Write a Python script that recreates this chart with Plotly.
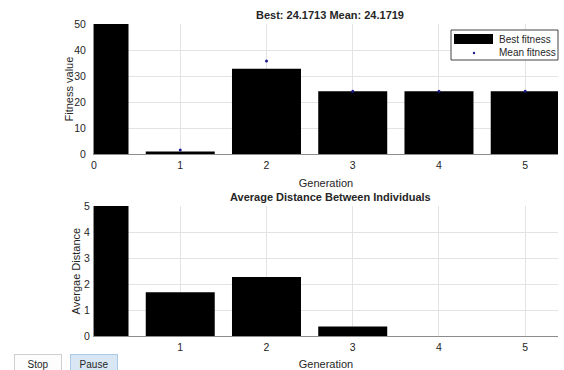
import plotly.graph_objects as go

generations = [0, 1, 2, 3, 4, 5]
best_fitness = [50, 1.0, 32.8, 24.1713, 24.1713, 24.1713]
mean_fitness = [None, 1.5, 35.8, 24.1719, 24.1719, 24.1719]
avg_distance = [5, 1.68, 2.27, 0.37, 0.0, 0.0]

top_title = "Best: 24.1713 Mean: 24.1719"
bottom_title = "Average Distance Between Individuals"
legend_labels = ["Best fitness", "Mean fitness"]

W, H = 564, 370
FONT = "Liberation Sans, Arial, sans-serif"
TXT = "#262626"
GRID = "#e3e3e3"
AXL = "#8c8c8c"
MEAN_COLOR = "#1c1c8c"

def px(x):
    return x / W

def py(y):
    return 1 - y / H

fig = go.Figure()
fig.add_trace(go.Bar(x=generations, y=best_fitness, name=legend_labels[0],
                     marker=dict(color="black", line=dict(width=0)), width=0.8,
                     showlegend=False, xaxis="x", yaxis="y"))
fig.add_trace(go.Scatter(x=generations, y=mean_fitness, name=legend_labels[1],
                         mode="markers", marker=dict(color=MEAN_COLOR, size=3),
                         showlegend=False, xaxis="x", yaxis="y"))
fig.add_trace(go.Bar(x=generations, y=avg_distance, showlegend=False,
                     marker=dict(color="black", line=dict(width=0)), width=0.8,
                     xaxis="x2", yaxis="y2"))

ax_common = dict(showgrid=True, gridcolor=GRID, gridwidth=1, zeroline=False,
                 showline=True, linecolor=AXL, linewidth=1, ticks="",
                 automargin=False,
                 tickfont=dict(family=FONT, size=10.5, color=TXT))

# legend drawn as a small key box (MATLAB style, wide patch)
shapes = [
    dict(type="rect", xref="paper", yref="paper", x0=px(451), x1=px(558), y0=py(60), y1=py(30),
         line=dict(color="#444444", width=1), fillcolor="white", layer="above"),
    dict(type="rect", xref="paper", yref="paper", x0=px(454), x1=px(493), y0=py(44), y1=py(34),
         line=dict(width=0), fillcolor="black", layer="above"),
    dict(type="circle", xref="paper", yref="paper", x0=px(472.8), x1=px(475.2), y0=py(54.2), y1=py(51.8),
         line=dict(width=0), fillcolor=MEAN_COLOR, layer="above"),
]

def note(text, x, y, **kw):
    d = dict(text=text, x=px(x), y=py(y), xref="paper", yref="paper",
             xanchor="center", yanchor="middle", showarrow=False,
             font=dict(family=FONT, size=kw.pop("size", 11), color=TXT))
    d.update(kw)
    return d

fig.update_layout(
    template="none",
    width=W, height=H,
    margin=dict(l=0, r=0, t=0, b=0),
    paper_bgcolor="white", plot_bgcolor="white",
    font=dict(family=FONT, size=11, color=TXT),
    showlegend=False,
    xaxis=dict(domain=[px(94), px(558)], range=[0, 5.38], anchor="y",
               tickvals=[0, 1, 2, 3, 4, 5], ticklabelstandoff=1,
               title=dict(text="Generation", standoff=9, font=dict(size=11)),
               **ax_common),
    yaxis=dict(domain=[py(154), py(24)], range=[0, 50], anchor="x",
               tickvals=[0, 10, 20, 30, 40, 50], ticklabelstandoff=5,
               **ax_common),
    xaxis2=dict(domain=[px(94), px(558)], range=[0, 5.38], anchor="y2",
                tickvals=[1, 2, 3, 4, 5], ticklabelstandoff=1,
                title=dict(text="Generation", standoff=10, font=dict(size=11)),
                **ax_common),
    yaxis2=dict(domain=[py(336), py(206)], range=[0, 5], anchor="x2",
                tickvals=[0, 1, 2, 3, 4, 5], ticklabelstandoff=1,
                **ax_common),
    shapes=shapes,
    annotations=[
        note("<b>" + top_title + "</b>", 330, 15),
        note("<b>" + bottom_title + "</b>", 330, 197),
        note("Fitness value", 68.5, 89, textangle=-90),
        note("Avergae Distance", 75.5, 271, textangle=-90),
        note(legend_labels[0], 497, 39.5, xanchor="left", size=10),
        note(legend_labels[1], 497, 53, xanchor="left", size=10),
        note("Stop", 38, 364, width=44, height=16, bgcolor="#fdfdfd",
             bordercolor="#cfcfcf", borderwidth=1, borderpad=1, size=10),
        note("Pause", 94, 364, width=44, height=16, bgcolor="#d9e7f5",
             bordercolor="#a9c8e6", borderwidth=1, borderpad=1, size=10),
    ],
)

fig.write_html("out.html", config={"displayModeBar": False},
               post_script="document.body.style.margin='0px';")
